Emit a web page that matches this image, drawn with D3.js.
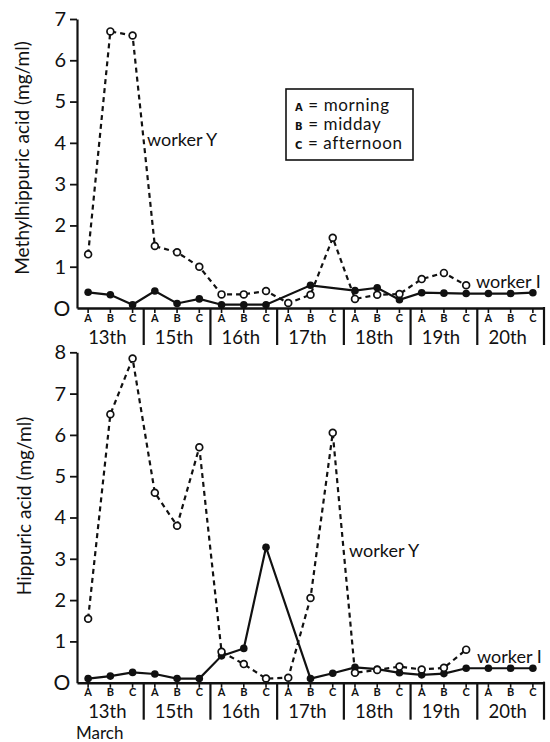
<!DOCTYPE html>
<html>
<head>
<meta charset="utf-8">
<script src="https://cdn.jsdelivr.net/npm/d3@7"></script>
<style>
  body { margin: 0; background: #fff; }
  text { font-family: Lato, "DejaVu Sans", sans-serif; fill: #111; }
</style>
</head>
<body>
<div id="chart"></div>
<script>
// Data (mg/ml), one value per sampling time
var days = ["13th", "15th", "16th", "17th", "18th", "19th", "20th"];
var periods = ["A", "B", "C"];

var methylY = [1.3, 6.7, 6.6, 1.5, 1.35, 1.0, 0.33, 0.33, 0.41, 0.12, 0.32, 1.7, 0.22, 0.32, 0.34, 0.7, 0.85, 0.55, null, null, null];
var methylI = [0.38, 0.32, 0.08, 0.41, 0.11, 0.22, 0.08, 0.08, 0.08, null, 0.55, null, 0.42, 0.49, 0.2, 0.37, 0.36, 0.35, 0.35, 0.35, 0.37];

var hippY = [1.55, 6.5, 7.85, 4.6, 3.8, 5.7, 0.75, 0.45, 0.1, 0.12, 2.05, 6.05, 0.24, 0.31, 0.39, 0.32, 0.36, 0.8, null, null, null];
var hippI = [0.1, 0.16, 0.25, 0.21, 0.1, 0.1, 0.65, 0.83, 3.28, null, 0.1, 0.23, 0.37, 0.33, 0.24, 0.19, 0.22, 0.35, 0.35, 0.35, 0.35];

var topTicks = [0, 1, 2, 3, 4, 5, 6, 7];
var bottomTicks = [0, 1, 2, 3, 4, 5, 6, 7, 8];

var svgWidth = 550;
var svgHeight = 742;

var svg = d3.select("#chart")
  .append("svg")
  .attr("width", svgWidth)
  .attr("height", svgHeight);

// one slot per day/period
var slots = [];
days.forEach(function(d) {
  periods.forEach(function(p) { slots.push(d + p); });
});

var xScale = d3.scaleBand()
  .domain(slots)
  .range([77, 544]);

function cx(i) {
  return xScale(slots[i]) + xScale.bandwidth() / 2;
}

function drawPanel(opts) {
  var yScale = d3.scaleLinear()
    .domain([0, opts.max])
    .range([opts.y0, opts.yTop]);

  var g = svg.append("g");

  // y axis
  var leftAxis = d3.axisLeft(yScale)
    .tickValues(opts.ticks)
    .tickSize(7)
    .tickSizeOuter(0)
    .tickPadding(4)
    .tickFormat(function(d) { return d === 0 ? "" : d; });

  var yAxis = g.append("g")
    .attr("transform", "translate(77,0)")
    .call(leftAxis);
  yAxis.select(".domain").attr("stroke", "#111").attr("stroke-width", 2.2);
  yAxis.selectAll(".tick line").attr("stroke", "#111").attr("stroke-width", 1.8);
  yAxis.selectAll(".tick text")
    .attr("font-size", "20px")
    .attr("fill", "#111");
  yAxis.selectAll(".tick").filter(function(d) { return d === 0; }).select("line").remove();

  // zero drawn as round O like the print
  g.append("text")
    .attr("x", 62)
    .attr("y", opts.y0 + 7.5)
    .attr("text-anchor", "middle")
    .attr("font-size", "21px")
    .text("O");

  // x axis with A/B/C ticks
  var bottomAxis = d3.axisBottom(xScale)
    .tickSize(5)
    .tickSizeOuter(0)
    .tickPadding(1)
    .tickFormat(function(d) { return d.slice(-1); });

  var xAxis = g.append("g")
    .attr("transform", "translate(0," + opts.y0 + ")")
    .call(bottomAxis);
  xAxis.select(".domain").attr("stroke", "#111").attr("stroke-width", 2.4);
  xAxis.selectAll(".tick line").attr("stroke", "#111").attr("stroke-width", 1.6);
  xAxis.selectAll(".tick text")
    .attr("font-size", "11px")
    .attr("font-weight", "bold")
    .attr("font-family", "'DejaVu Sans', sans-serif")
    .attr("fill", "#111");

  // day separators and labels
  days.forEach(function(d, j) {
    var left = xScale(d + "A");
    var right = xScale(d + "C") + xScale.bandwidth();
    if (j > 0) {
      g.append("line")
        .attr("x1", left).attr("x2", left)
        .attr("y1", opts.y0).attr("y2", opts.y0 + 37)
        .attr("stroke", "#111").attr("stroke-width", 2.2);
    }
    if (j === days.length - 1) {
      g.append("line")
        .attr("x1", right).attr("x2", right)
        .attr("y1", opts.y0 - 1).attr("y2", opts.y0 + 37)
        .attr("stroke", "#111").attr("stroke-width", 2.2);
    }
    g.append("text")
      .attr("x", (left + right) / 2 - 3)
      .attr("y", opts.y0 + 35.5)
      .attr("text-anchor", "middle")
      .attr("font-size", "18.5px")
      .text(d);
  });

  // y axis label
  g.append("text")
    .attr("transform", "translate(" + opts.labelX + "," + opts.labelY + ") rotate(-90)")
    .attr("text-anchor", "middle")
    .attr("font-size", "19px")
    .text(opts.label);

  var lineGen = d3.line()
    .x(function(d) { return cx(d.i); })
    .y(function(d) { return yScale(d.v); });

  function pts(arr) {
    return arr.map(function(v, i) { return { i: i, v: v }; })
      .filter(function(d) { return d.v !== null; });
  }

  // worker I, solid with filled dots
  var iPts = pts(opts.workerI);
  g.append("path")
    .datum(iPts)
    .attr("d", lineGen)
    .attr("fill", "none")
    .attr("stroke", "#111")
    .attr("stroke-width", 2.2);

  // worker Y, dashed with open circles
  var yPts = pts(opts.workerY);
  g.append("path")
    .datum(yPts)
    .attr("d", lineGen)
    .attr("fill", "none")
    .attr("stroke", "#111")
    .attr("stroke-width", 2.2)
    .attr("stroke-dasharray", "5,4");

  g.selectAll(".dotI")
    .data(iPts)
    .enter()
    .append("circle")
    .attr("cx", function(d) { return cx(d.i); })
    .attr("cy", function(d) { return yScale(d.v); })
    .attr("r", 3.8)
    .attr("fill", "#111");

  g.selectAll(".dotY")
    .data(yPts)
    .enter()
    .append("circle")
    .attr("cx", function(d) { return cx(d.i); })
    .attr("cy", function(d) { return yScale(d.v); })
    .attr("r", 3.4)
    .attr("fill", "#fff")
    .attr("stroke", "#111")
    .attr("stroke-width", 1.7);

  g.append("text")
    .attr("x", opts.yTagX).attr("y", opts.yTagY)
    .attr("font-size", "18px")
    .text("worker Y");

  g.append("text")
    .attr("x", opts.iTagX).attr("y", opts.iTagY)
    .attr("font-size", "18px")
    .text("worker I");
}

drawPanel({
  max: 7, ticks: topTicks, y0: 308, yTop: 19,
  workerY: methylY, workerI: methylI,
  label: "Methylhippuric acid (mg/ml)", labelX: 29, labelY: 158,
  yTagX: 147, yTagY: 146, iTagX: 476, iTagY: 288
});

drawPanel({
  max: 8, ticks: bottomTicks, y0: 682.7, yTop: 352.3,
  workerY: hippY, workerI: hippI,
  label: "Hippuric acid (mg/ml)", labelX: 31, labelY: 506,
  yTagX: 349, yTagY: 557, iTagX: 477, iTagY: 663
});

// March under the first day
svg.append("text")
  .attr("x", 76)
  .attr("y", 738.8)
  .attr("font-size", "17px")
  .text("March");

// legend box
var legend = svg.append("g");
legend.append("rect")
  .attr("x", 286).attr("y", 89)
  .attr("width", 127).attr("height", 71)
  .attr("fill", "#fff")
  .attr("stroke", "#111")
  .attr("stroke-width", 1.6);

var legendRows = [["A", "morning"], ["B", "midday"], ["C", "afternoon"]];
legendRows.forEach(function(r, k) {
  var t = legend.append("text")
    .attr("x", 295)
    .attr("y", 111 + k * 19)
    .attr("letter-spacing", "0.6px");
  t.append("tspan")
    .attr("font-size", "10px")
    .attr("font-weight", "bold")
    .attr("font-family", "'DejaVu Sans', sans-serif")
    .text(r[0]);
  t.append("tspan")
    .attr("font-size", "17px")
    .text(" = " + r[1]);
});
</script>
</body>
</html>
